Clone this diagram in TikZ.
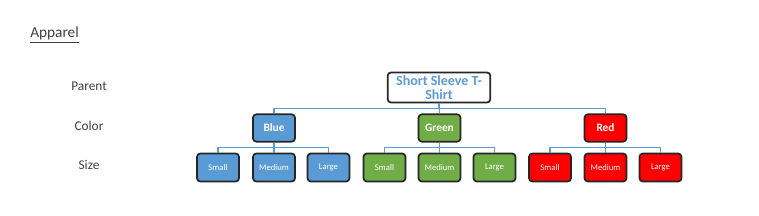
\documentclass[tikz,border=0pt]{standalone}
\usepackage{fontspec}
\setmainfont{Carlito}
\usepackage{xcolor}
\definecolor{tshirtblue}{HTML}{5B9BD5}
\definecolor{tshirtgreen}{HTML}{70AD47}
\definecolor{tshirtred}{HTML}{FF0000}
\definecolor{boxedge}{HTML}{262626}
\definecolor{ink}{HTML}{404040}

\begin{document}
\begin{tikzpicture}[x=0.75pt,y=-0.75pt,
  parentbox/.style={draw=boxedge,line width=1.3pt,rounded corners=2.5pt,fill=white,minimum width=77pt,minimum height=22.5pt,inner sep=1pt,align=center,text=tshirtblue,font=\fontsize{10.5}{11}\selectfont\bfseries},
  colorbox/.style={draw=boxedge,line width=1.3pt,rounded corners=2.5pt,minimum width=31.5pt,minimum height=20.5pt,inner sep=1pt,text=white,font=\fontsize{8.5}{10}\selectfont\bfseries},
  sizebox/.style={draw=boxedge,line width=1.3pt,rounded corners=2.5pt,minimum width=31.5pt,minimum height=21pt,inner sep=1pt,text=white,font=\fontsize{6.5}{8}\selectfont},
  levellabel/.style={text=ink,font=\fontsize{10}{12}\selectfont},
  link/.style={draw=tshirtblue,line width=0.9pt}
]
\useasboundingbox (0,0) rectangle (759,216);
\node[anchor=base west,text=ink,font=\fontsize{11.5}{13}\selectfont,inner sep=0pt] (title) at (30,38) {\underline{Apparel}};
\node[levellabel] (lparent) at (89,86) {Parent};
\node[levellabel] (lcolor) at (89,126) {Color};
\node[levellabel] (lsize) at (89,165) {Size};
\node[parentbox] (p) at (439,87.5) {Short Sleeve T-\\Shirt};
\node[colorbox,fill=tshirtblue] (blue) at (274,128) {Blue};
\node[colorbox,fill=tshirtgreen] (green) at (439.5,128) {Green};
\node[colorbox,fill=tshirtred] (red) at (605.5,128) {Red};
\foreach \c in {blue,green,red} \draw[link] (p.south) -- ++(0,5) -| (\c.north);
% size row
\node[sizebox,fill=tshirtblue] (bs) at (218,167.5) {Small};
\node[sizebox,fill=tshirtblue] (bm) at (274,167.5) {Medium};
\node[sizebox,fill=tshirtblue] (bl) at (328.5,167.5) {Large};
\node[sizebox,fill=tshirtgreen] (gs) at (384.5,167.5) {Small};
\node[sizebox,fill=tshirtgreen] (gm) at (439.5,167.5) {Medium};
\node[sizebox,fill=tshirtgreen] (gl) at (494.5,167.5) {Large};
\node[sizebox,fill=tshirtred] (rs) at (550,167.5) {Small};
\node[sizebox,fill=tshirtred] (rm) at (605.5,167.5) {Medium};
\node[sizebox,fill=tshirtred] (rl) at (660.5,167.5) {Large};
\foreach \s in {bs,bm,bl} \draw[link] (blue.south) -- ++(0,5) -| (\s.north);
\foreach \s in {gs,gm,gl} \draw[link] (green.south) -- ++(0,5) -| (\s.north);
\foreach \s in {rs,rm,rl} \draw[link] (red.south) -- ++(0,5) -| (\s.north);
\end{tikzpicture}
\end{document}
